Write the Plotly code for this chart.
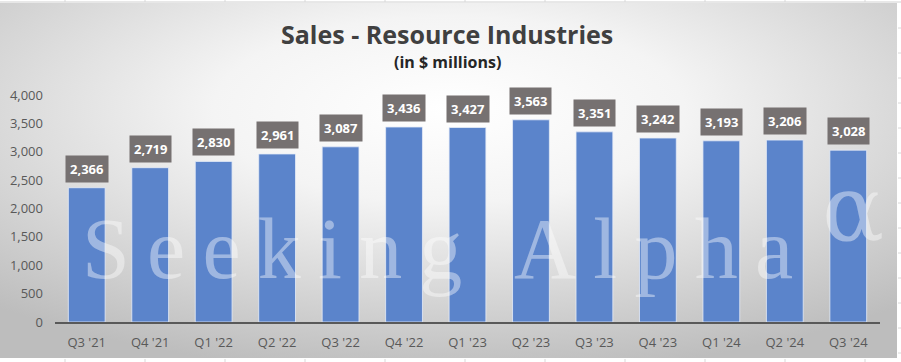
import base64
import plotly.graph_objects as go

categories = ["Q3 '21", "Q4 '21", "Q1 '22", "Q2 '22", "Q3 '22", "Q4 '22", "Q1 '23",
              "Q2 '23", "Q3 '23", "Q4 '23", "Q1 '24", "Q2 '24", "Q3 '24"]
sales = [2366, 2719, 2830, 2961, 3087, 3436, 3427, 3563, 3351, 3242, 3193, 3206, 3028]
y_ticks = [0, 500, 1000, 1500, 2000, 2500, 3000, 3500, 4000]

W, H = 901, 362
ML, MR, MT, MB = 55, 21, 95, 40
PW, PH = W - ML - MR, H - MT - MB

def px(x):
    return (x - ML) / PW

def py(y):
    return (H - MB - y) / PH

svg = ('<svg xmlns="http://www.w3.org/2000/svg" width="900" height="360" preserveAspectRatio="none">'
       '<defs><radialGradient id="g" cx="0.5" cy="0.3" r="0.75" gradientUnits="objectBoundingBox">'
       '<stop offset="0" stop-color="#ffffff"/><stop offset="0.35" stop-color="#f4f4f4"/>'
       '<stop offset="1" stop-color="#bdbdbd"/></radialGradient></defs>'
       '<rect width="900" height="360" fill="url(#g)"/></svg>')
src = "data:image/svg+xml;base64," + base64.b64encode(svg.encode()).decode()

fig = go.Figure()
fig.add_trace(go.Bar(
    x=categories, y=sales,
    marker=dict(color="#5b84cb", line=dict(color="rgba(230,236,248,0.8)", width=1)),
    hoverinfo="skip",
))

annotations = []
for c, v in zip(categories, sales):
    annotations.append(dict(
        x=c, y=v, xref="x", yref="y", text=f"<b>{v:,}</b>", showarrow=False,
        yanchor="bottom", yshift=5, bgcolor="#767171", borderpad=4,
        font=dict(family="Open Sans", size=13, color="white"),
    ))

annotations.append(dict(
    x=px(447), y=py(34), xref="paper", yref="paper", showarrow=False,
    text="<b>Sales - Resource Industries</b>", xanchor="center", yanchor="middle",
    font=dict(family="Open Sans", size=25, color="#404040"),
))
annotations.append(dict(
    x=px(447), y=py(62), xref="paper", yref="paper", showarrow=False,
    text="<b>(in $ millions)</b>", xanchor="center", yanchor="middle",
    font=dict(family="Open Sans", size=16, color="#262626"),
))
wm = "\u2009".join("Seeking") + "\u2009\u2009\u2009" + "\u2009".join("Alpha")
annotations.append(dict(
    x=px(437), y=py(249), xref="paper", yref="paper", showarrow=False,
    text=wm, xanchor="center", yanchor="middle",
    font=dict(family="Liberation Serif", size=86, color="rgba(255,255,255,0.42)"),
))
annotations.append(dict(
    x=px(853), y=py(208), xref="paper", yref="paper", showarrow=False,
    text="\u03b1", xanchor="center", yanchor="middle",
    font=dict(family="DejaVu Serif", size=92, color="rgba(255,255,255,0.42)"),
))

shapes = []
shapes.append(dict(type="line", xref="paper", yref="paper", x0=px(0), x1=px(W), y0=py(2), y1=py(2),
                   line=dict(color="#d0d0d0", width=1), layer="below"))
for xv in range(65, 900, 80):
    shapes.append(dict(type="line", xref="paper", yref="paper", x0=px(xv), x1=px(xv), y0=py(0), y1=py(2),
                       line=dict(color="#d8d8d8", width=1), layer="below"))
    shapes.append(dict(type="line", xref="paper", yref="paper", x0=px(xv), x1=px(xv), y0=py(359), y1=py(362),
                       line=dict(color="#d8d8d8", width=1), layer="below"))
for yv in range(28, 362, 25):
    shapes.append(dict(type="line", xref="paper", yref="paper", x0=px(898), x1=px(901), y0=py(yv), y1=py(yv),
                       line=dict(color="#d8d8d8", width=1), layer="below"))

fig.update_layout(
    width=W, height=H,
    margin=dict(l=ML, r=MR, t=MT, b=MB, autoexpand=False),
    paper_bgcolor="white", plot_bgcolor="rgba(0,0,0,0)",
    showlegend=False, bargap=0.42,
    annotations=annotations, shapes=shapes,
    images=[dict(source=src, xref="paper", yref="paper", x=px(0), y=py(3),
                 sizex=px(897) - px(0), sizey=py(3) - py(358), xanchor="left", yanchor="top",
                 sizing="stretch", layer="below")],
    xaxis=dict(type="category", range=[-0.5, len(categories) - 0.5], showgrid=False,
               showline=True, linecolor="#595959", linewidth=2, ticks="", ticklen=0,
               automargin=False, ticklabelstandoff=7,
               tickfont=dict(family="Open Sans", size=13, color="#595959"), zeroline=False),
    yaxis=dict(range=[0, 4000], tickvals=y_ticks, ticktext=[f"{t:,}" for t in y_ticks],
               showgrid=False, zeroline=False, showline=False, ticks="", automargin=False,
               ticklabelstandoff=11,
               tickfont=dict(family="Open Sans", size=13, color="#595959")),
    font=dict(family="Open Sans"),
)

fig.write_html("out.html", config={"displayModeBar": False},
               post_script="document.body.style.margin='0px';")
